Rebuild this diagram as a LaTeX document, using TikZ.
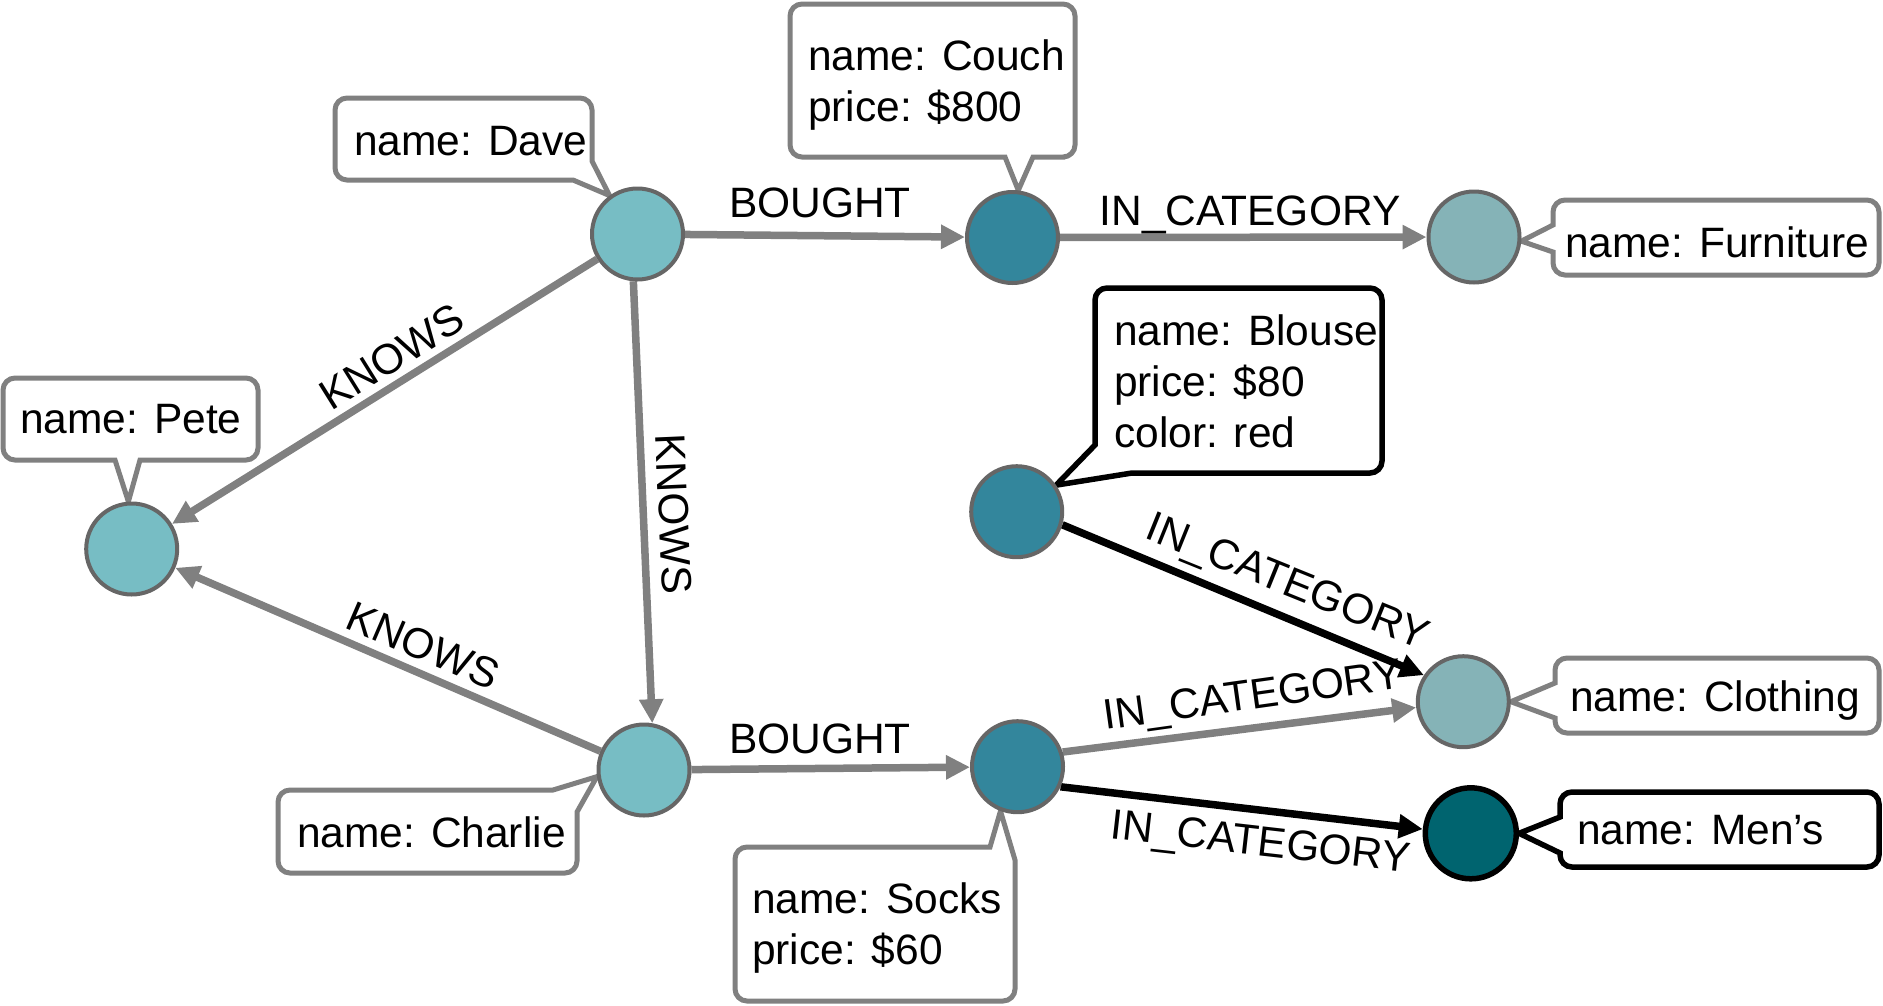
\documentclass[tikz,border=0pt]{standalone}
\usepackage{fontspec}
\setmainfont{Liberation Sans}
\usetikzlibrary{arrows.meta}

\definecolor{edgegray}{HTML}{808080}
\definecolor{ringgray}{HTML}{666666}
\definecolor{personfill}{HTML}{77BDC4}
\definecolor{productfill}{HTML}{33869C}
\definecolor{categoryfill}{HTML}{85B3B7}
\definecolor{mensfill}{HTML}{00646F}

\pgfdeclarelayer{back}
\pgfsetlayers{back,main}

\begin{document}
\begin{tikzpicture}[x=1pt, y=-1pt,
  every node/.style={font=\fontsize{42.5}{51}\selectfont},
  ent/.style={circle, minimum size=91pt, inner sep=0pt, draw=ringgray, line width=4pt},
  person/.style={ent, fill=personfill},
  product/.style={ent, fill=productfill},
  category/.style={ent, fill=categoryfill},
  menscat/.style={ent, fill=mensfill, draw=black, line width=5.5pt},
  rel/.style={draw=edgegray, line width=7.5pt, -{Triangle[length=24pt,width=23pt]}},
  relblack/.style={rel, draw=black},
  callout/.style={draw=edgegray, fill=white, line width=5pt},
  calloutblack/.style={callout, draw=black, line width=5.5pt},
  prop/.style={inner sep=0pt, anchor=base west},
  proplines/.style={inner sep=0pt, anchor=north west, align=left},
  lbl/.style={inner sep=0pt, anchor=base},
]
\useasboundingbox (0,0) rectangle (1883,1005);

% entities
\node[person]   (dave)      at (637.5,234)   {};
\node[person]   (pete)      at (131.7,549)   {};
\node[person]   (charlie)   at (644,770)     {};
\node[product]  (couch)     at (1012.5,237.5) {};
\node[category] (furniture) at (1474,237)    {};
\node[product]  (blouse)    at (1016.7,511.7) {};
\node[product]  (socks)     at (1017.5,766.7) {};
\node[category] (clothing)  at (1463.3,701.7) {};
\node[menscat]  (mens)      at (1470.8,833.3) {};

\begin{pgfonlayer}{back}
% property callouts
\draw[callout] (130,378) [rounded corners=12pt] -- (258,378) -- (258,460) -- (155,460)
  [sharp corners] -- (140,460) -- (pete.94) -- (115,460) -- (100,460)
  [rounded corners=12pt] -- (3,460) -- (3,378) -- cycle;
\node[prop] (tpete) at (20,433) {name: Pete};

\draw[callout] (460,98) [rounded corners=12pt] -- (592,98) -- (592,141)
  [sharp corners] -- (592,161) -- (dave.126) -- (573,180) -- (553,180)
  [rounded corners=12pt] -- (335,180) -- (335,98) -- cycle;
\node[prop] (tdave) at (354,155) {name: Dave};

\draw[callout] (930,4) [rounded corners=12pt] -- (1075,4) -- (1075,157) -- (1053,157)
  [sharp corners] -- (1033,157) -- (couch.83) -- (1005,157) -- (985,157)
  [rounded corners=12pt] -- (790,157) -- (790,4) -- cycle;
\node[proplines] (tcouch) at (808,37) {\rule{0pt}{33pt}name: Couch\\price: \$800};

\draw[callout] (1700,200) [rounded corners=12pt] -- (1879,200) -- (1879,275) -- (1553,275)
  [sharp corners] -- (1553,252) -- (furniture.-5) -- (1553,225)
  [rounded corners=12pt] -- (1553,200) -- cycle;
\node[prop] (tfurniture) at (1565,257) {name: Furniture};

\draw[calloutblack] (1240,288) [rounded corners=12pt] -- (1382,288) -- (1382,473) -- (1152,473)
  [sharp corners] -- (1132,473) -- (blouse.34) -- (1095,445) -- (1095,425)
  [rounded corners=12pt] -- (1095,288) -- cycle;
\node[proplines] (tblouse) at (1114,312) {\rule{0pt}{33pt}name: Blouse\\price: \$80\\color: red};

\draw[callout] (1700,658) [rounded corners=12pt] -- (1879,658) -- (1879,733) -- (1555,733)
  [sharp corners] -- (1555,718) -- (clothing.0) -- (1555,683)
  [rounded corners=12pt] -- (1555,658) -- cycle;
\node[prop] (tclothing) at (1570,711) {name: Clothing};

\draw[calloutblack] (1700,792) [rounded corners=12pt] -- (1879,792) -- (1879,867) -- (1560,867)
  [sharp corners] -- (1560,853) -- (mens.0) -- (1560,817)
  [rounded corners=12pt] -- (1560,792) -- cycle;
\node[prop] (tmens) at (1577,844) {name: Men’s};

\draw[callout] (850,847) [rounded corners=12pt] -- (970,847)
  [sharp corners] -- (990,847) -- (socks.-111) -- (1015,860) -- (1015,880)
  [rounded corners=12pt] -- (1015,1001) -- (735,1001) -- (735,847) -- cycle;
\node[proplines] (tsocks) at (752,880) {\rule{0pt}{33pt}name: Socks\\price: \$60};

\draw[callout] (400,790) [rounded corners=12pt] -- (533,790)
  [sharp corners] -- (553,790) -- (charlie.188) -- (577,812) -- (577,832)
  [rounded corners=12pt] -- (577,873) -- (278,873) -- (278,790) -- cycle;
\node[prop] (tcharlie) at (297,847) {name: Charlie};

% relationships
\draw[rel] (dave) -- (couch);
\draw[rel] (couch) -- (furniture);
\draw[rel] (dave) -- (pete);
\draw[rel] (dave.265) -- (charlie.80);
\draw[rel] (charlie) -- (pete);
\draw[rel] (charlie) -- (socks);
\draw[relblack] (blouse.-16) -- (clothing.146);
\draw[rel] (socks.18) -- (clothing.187);
\draw[relblack] (socks.-25) -- (mens.175);
\end{pgfonlayer}

% relationship labels
\node[lbl] (bought1) at (820,217) {BOUGHT};
\node[lbl] (bought2) at (820,753) {BOUGHT};
\node[lbl] (cat1) at (1250,225) {IN\_CATEGORY};
\node[lbl, rotate=31.9] (knows1) at (399.6,369.4) {KNOWS};
\node[lbl, rotate=-87.5] (knows2) at (659,514.7) {KNOWS};
\node[lbl, rotate=-23.3] (knows3) at (417.4,658.8) {KNOWS};
\node[lbl, rotate=-22] (cat2) at (1282.7,593.9) {IN\_CATEGORY};
\node[lbl, rotate=8] (cat3) at (1254.7,708.9) {IN\_CATEGORY};
\node[lbl, rotate=-6.5] (cat4) at (1259.3,855.5) {IN\_CATEGORY};
\end{tikzpicture}
\end{document}
